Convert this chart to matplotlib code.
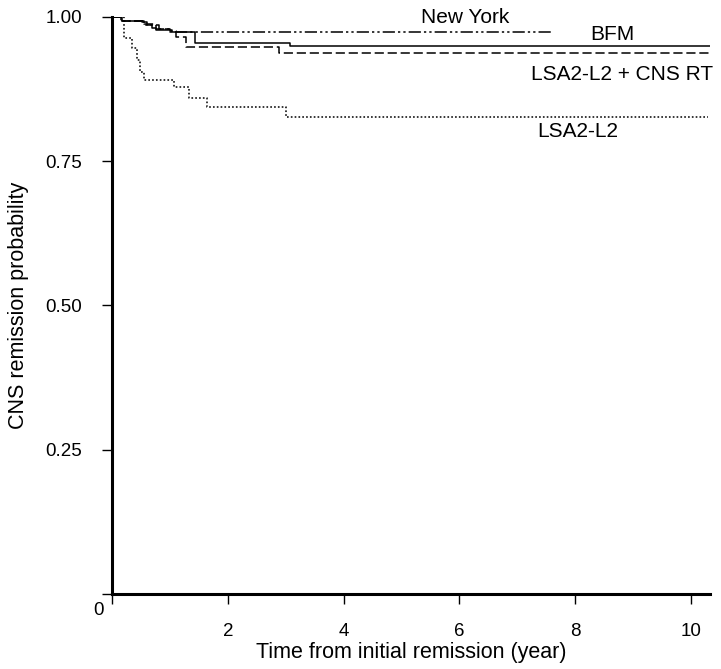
import matplotlib
matplotlib.use('Agg')
from matplotlib import pyplot as plt

plt.rcParams['font.family'] = ['Liberation Sans', 'DejaVu Sans']

# step curves (years, probability)
bfm_t = [0, 0.17, 0.52, 0.61, 0.69, 0.76, 1.04, 1.44, 3.07, 10.33]
bfm_p = [1.0, 0.992, 0.990, 0.985, 0.980, 0.977, 0.973, 0.954, 0.949, 0.949]

rt_t = [0, 0.17, 0.56, 0.76, 1.01, 1.1, 1.28, 2.88, 10.33]
rt_p = [1.0, 0.992, 0.988, 0.978, 0.975, 0.965, 0.947, 0.937, 0.937]

ny_t = [0, 0.15, 0.56, 0.81, 1.01, 7.6]
ny_p = [1.0, 0.993, 0.985, 0.978, 0.973, 0.973]

lsa_t = [0, 0.2, 0.35, 0.43, 0.49, 0.56, 1.07, 1.33, 1.65, 3.0, 10.29]
lsa_p = [1.0, 0.964, 0.946, 0.925, 0.905, 0.891, 0.878, 0.859, 0.843, 0.827, 0.827]

xticks = [0, 2, 4, 6, 8, 10]
yticks = [0, 0.25, 0.5, 0.75, 1.0]
ylabels = ['', '0.25', '0.50', '0.75', '1.00']

fig = plt.figure(figsize=(7.21, 6.69), dpi=100)
ax = fig.add_axes([0.1553, 0.112, 0.8294, 0.863])

lw = 1.1
ax.plot(bfm_t, bfm_p, drawstyle='steps-post', color='black', lw=lw)
ax.plot(rt_t, rt_p, drawstyle='steps-post', color='black', lw=lw, linestyle=(0, (6, 2.5)))
ax.plot(ny_t, ny_p, drawstyle='steps-post', color='black', lw=lw, linestyle=(0, (8, 2, 1.5, 2, 1.5, 2)))
ax.plot(lsa_t, lsa_p, drawstyle='steps-post', color='black', lw=lw, linestyle=(0, (1.1, 1.4)))

fs = 15
ax.text(6.11, 0.999, 'New York', fontsize=fs, ha='center', va='center')
ax.text(8.64, 0.9685, 'BFM', fontsize=fs, ha='center', va='center')
ax.text(8.81, 0.9, 'LSA2-L2 + CNS RT', fontsize=fs, ha='center', va='center')
ax.text(8.05, 0.8015, 'LSA2-L2', fontsize=fs, ha='center', va='center')

ax.set_xlim(0, 10.33)
ax.set_ylim(0, 1.0)
ax.spines['top'].set_visible(False)
ax.spines['right'].set_visible(False)
ax.spines['left'].set_linewidth(2.2)
ax.spines['bottom'].set_linewidth(2.2)

ax.set_xticks(xticks)
ax.set_xticklabels([''] + [str(v) for v in xticks[1:]])
ax.set_yticks(yticks)
ax.set_yticklabels(ylabels)
ax.tick_params(axis='x', length=7.5, width=1, pad=13, labelsize=13.5)
ax.tick_params(axis='y', length=7.5, width=1, pad=14, labelsize=13.5)
ax.text(-0.225, -0.029, '0', fontsize=13.5, ha='center', va='center', clip_on=False)

ax.set_xlabel('Time from initial remission (year)', fontsize=15.5, labelpad=2)
ax.set_ylabel('CNS remission probability', fontsize=15.5, labelpad=12)

fig.savefig('out.png', dpi=100)
